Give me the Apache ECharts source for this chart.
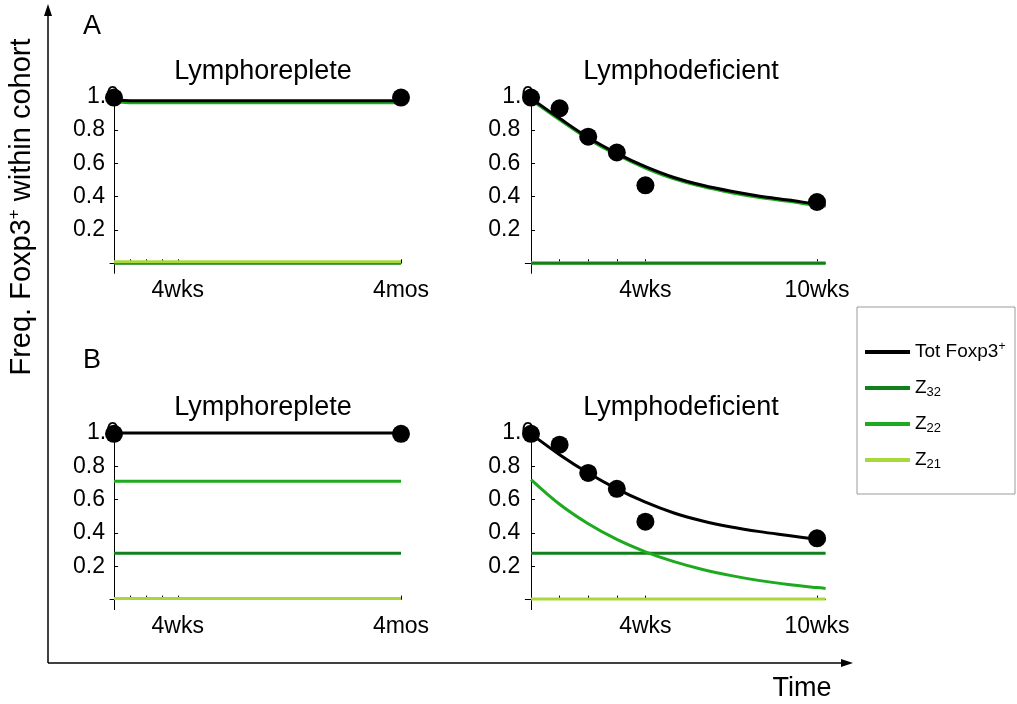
<!DOCTYPE html>
<html>
<head>
<meta charset="utf-8">
<title>Foxp3+ cohort frequency</title>
<script src="https://cdn.jsdelivr.net/npm/echarts@6/dist/echarts.min.js"></script>
<style>
  html, body { margin: 0; padding: 0; background: #ffffff; }
  #chart { width: 1017px; height: 704px; }
</style>
</head>
<body>
<div id="chart"></div>
<script>
// ---- data (time in weeks) ----
const legendNames = ['Tot Foxp3+', 'Z32', 'Z22', 'Z21'];

// observed cohort frequencies
const obsRepWeeks = [0, 18];
const obsRepValues = [0.995, 0.995];
const obsDefWeeks = [0, 1, 2, 3, 4, 10];
const obsDefValues = [0.995, 0.93, 0.76, 0.665, 0.468, 0.368];

// panel A, lymphoreplete
const repTotWeeksA = [0, 0.4, 1, 18];
const repTotA = [0.995, 0.98, 0.976, 0.976];
const repZ22A = [0.985, 0.968, 0.964, 0.964];
const repFlatWeeks = [0, 18];
const repZ32A = [0.0, 0.0];
const repZ21A = [0.01, 0.01];

// panel A, lymphodeficient
const defWeeks = [0, 1, 2, 3, 4, 5, 6, 7, 8, 9, 10, 10.3];
const defTotA = [0.99, 0.87, 0.755, 0.66, 0.58, 0.515, 0.468, 0.432, 0.403, 0.38, 0.355, 0.35];
const defZ22A = [0.982, 0.862, 0.747, 0.652, 0.572, 0.507, 0.46, 0.424, 0.395, 0.372, 0.347, 0.342];
const defFlatWeeks = [0, 10.3];
const defZ32A = [0.0, 0.0];
const defZ21A = [0.003, 0.003];

// panel B, lymphoreplete
const repTotB = [1.0, 1.0];
const repZ32B = [0.278, 0.278];
const repZ22B = [0.71, 0.71];
const repZ21B = [0.006, 0.006];

// panel B, lymphodeficient
const defTotB = [0.995, 0.87, 0.76, 0.665, 0.585, 0.52, 0.472, 0.436, 0.408, 0.385, 0.362, 0.357];
const defZ22B = [0.72, 0.572, 0.455, 0.361, 0.287, 0.228, 0.181, 0.144, 0.114, 0.091, 0.072, 0.067];
const defZ32B = [0.278, 0.278];
const defZ21B = [0.004, 0.004];

// axis ticks and labels
const repTicks = [1, 2, 3, 4, 18];
const repLabels = { 4: '4wks', 18: '4mos' };
const defTicks = [1, 2, 3, 4, 10];
const defLabels = { 4: '4wks', 10: '10wks' };
const yTicks = [0.2, 0.4, 0.6, 0.8, 1.0];

// ---- styling ----
const FONT = '"Liberation Sans", Arial, Helvetica, sans-serif';
const COLORS = { 'Tot Foxp3+': '#000000', 'Z32': '#12801a', 'Z22': '#1eaa1e', 'Z21': '#a8d83a' };

const pairs = (xs, ys) => xs.map((x, i) => [x, ys[i]]);

const grids = [
  { left: 110, top: 91.7, width: 291, height: 181.6 },
  { left: 525.3, top: 91.7, width: 300.3, height: 181.6 },
  { left: 110, top: 428, width: 291, height: 181.6 },
  { left: 525.3, top: 428, width: 300.3, height: 181.6 }
];

function xAxisFor(gridIndex, max, ticks, labels, minV) {
  return {
    type: 'value', gridIndex, min: minV, max,
    axisLine: { show: true, onZero: true, lineStyle: { color: '#000', width: 1 } },
    axisTick: { show: true, inside: true, length: 4, customValues: ticks, lineStyle: { color: '#000', width: 1 } },
    axisLabel: {
      show: true, customValues: Object.keys(labels).map(Number),
      formatter: v => labels[v] || '', color: '#000', fontSize: 23, fontFamily: FONT, margin: 6
    },
    splitLine: { show: false }
  };
}
function yAxisFor(gridIndex) {
  return {
    type: 'value', gridIndex, min: -0.06, max: 1.03,
    axisLine: { show: true, onZero: true, lineStyle: { color: '#000', width: 1 } },
    axisTick: { show: true, inside: true, length: 4, customValues: yTicks, lineStyle: { color: '#000', width: 1 } },
    axisLabel: {
      show: true, customValues: yTicks,
      // the top label sits closer to the axis, partly under the first marker
      formatter: v => (v >= 1 ? '{top|' : '{std|') + v.toFixed(1) + '}',
      rich: {
        std: { color: '#000', fontSize: 23, fontFamily: FONT, padding: [0, 14, 0, 0] },
        top: { color: '#000', fontSize: 23, fontFamily: FONT }
      },
      color: '#000', fontSize: 23, fontFamily: FONT, margin: -9
    },
    splitLine: { show: false }
  };
}

function curve(name, idx, xs, ys, smooth) {
  return {
    name, type: 'line', xAxisIndex: idx, yAxisIndex: idx,
    data: pairs(xs, ys), showSymbol: false, symbol: 'none', smooth: smooth ? 0.35 : false,
    clip: false, lineStyle: { color: COLORS[name], width: 3 }, itemStyle: { color: COLORS[name] },
    emphasis: { disabled: true }, z: name === 'Tot Foxp3+' ? 6 : 4
  };
}
function points(idx, xs, ys) {
  return {
    name: 'Observed', type: 'scatter', xAxisIndex: idx, yAxisIndex: idx,
    data: pairs(xs, ys), symbol: 'circle', symbolSize: 18, clip: false,
    itemStyle: { color: '#000', opacity: 1 }, emphasis: { disabled: true }, z: 8
  };
}

const series = [
  // A, lymphoreplete
  curve('Z32', 0, repFlatWeeks, repZ32A),
  curve('Z21', 0, repFlatWeeks, repZ21A),
  curve('Z22', 0, repTotWeeksA, repZ22A, true),
  curve('Tot Foxp3+', 0, repTotWeeksA, repTotA, true),
  points(0, obsRepWeeks, obsRepValues),
  // A, lymphodeficient
  curve('Z21', 1, defFlatWeeks, defZ21A),
  curve('Z32', 1, defFlatWeeks, defZ32A),
  curve('Z22', 1, defWeeks, defZ22A, true),
  curve('Tot Foxp3+', 1, defWeeks, defTotA, true),
  points(1, obsDefWeeks, obsDefValues),
  // B, lymphoreplete
  curve('Z21', 2, repFlatWeeks, repZ21B),
  curve('Z32', 2, repFlatWeeks, repZ32B),
  curve('Z22', 2, repFlatWeeks, repZ22B),
  curve('Tot Foxp3+', 2, repFlatWeeks, repTotB),
  points(2, obsRepWeeks, obsRepValues),
  // B, lymphodeficient
  curve('Z21', 3, defFlatWeeks, defZ21B),
  curve('Z32', 3, defFlatWeeks, defZ32B),
  curve('Z22', 3, defWeeks, defZ22B, true),
  curve('Tot Foxp3+', 3, defWeeks, defTotB, true),
  points(3, obsDefWeeks, obsDefValues)
];

const titleStyle = { color: '#000', fontSize: 27, fontWeight: 'normal', fontFamily: FONT };
const legendRich = {
  n: { fontSize: 19, fontFamily: FONT, color: '#000', lineHeight: 22 },
  sup: { fontSize: 12, fontFamily: FONT, color: '#000', padding: [0, 0, 10, 0] },
  sub: { fontSize: 13, fontFamily: FONT, color: '#000', padding: [8, 0, 0, 0] }
};

const option = {
  animation: false,
  backgroundColor: '#ffffff',
  title: [
    { text: 'A', left: 78, top: 8, textStyle: Object.assign({}, titleStyle, { fontSize: 27 }) },
    { text: 'B', left: 78, top: 342, textStyle: Object.assign({}, titleStyle, { fontSize: 27 }) },
    { text: 'Lymphoreplete', left: 258, top: 53, textAlign: 'center', textStyle: titleStyle },
    { text: 'Lymphodeficient', left: 676, top: 53, textAlign: 'center', textStyle: titleStyle },
    { text: 'Lymphoreplete', left: 258, top: 389, textAlign: 'center', textStyle: titleStyle },
    { text: 'Lymphodeficient', left: 676, top: 389, textAlign: 'center', textStyle: titleStyle }
  ],
  legend: {
    data: legendNames, orient: 'vertical', left: 865, top: 341, padding: 0,
    icon: 'rect', itemWidth: 45, itemHeight: 4, itemGap: 14, z: 5,
    selectedMode: false,
    formatter: name => name === 'Tot Foxp3+' ? '{n|Tot Foxp3}{sup|+}' : '{n|Z}{sub|' + name.slice(1) + '}',
    textStyle: { rich: legendRich, fontSize: 19, lineHeight: 22 }
  },
  grid: grids,
  xAxis: [
    xAxisFor(0, 18, repTicks, repLabels, -0.25),
    xAxisFor(1, 10.3, defTicks, defLabels, -0.2),
    xAxisFor(2, 18, repTicks, repLabels, -0.25),
    xAxisFor(3, 10.3, defTicks, defLabels, -0.2)
  ],
  yAxis: [yAxisFor(0), yAxisFor(1), yAxisFor(2), yAxisFor(3)],
  series,
  graphic: [
    // legend frame
    { type: 'rect', z: 1, shape: { x: 857, y: 307, width: 158, height: 187 },
      style: { fill: '#ffffff', stroke: '#9a9a9a', lineWidth: 1 } },
    // outer value arrow
    { type: 'line', shape: { x1: 48, y1: 663, x2: 48, y2: 12 }, style: { stroke: '#000', lineWidth: 1.5 } },
    { type: 'polygon', shape: { points: [[48, 4], [44, 16], [52, 16]] }, style: { fill: '#000' } },
    // outer time arrow
    { type: 'line', shape: { x1: 48, y1: 663, x2: 845, y2: 663 }, style: { stroke: '#000', lineWidth: 1.5 } },
    { type: 'polygon', shape: { points: [[853, 663], [841, 659], [841, 667]] }, style: { fill: '#000' } },
    { type: 'text', x: 802, y: 689,
      style: { text: 'Time', fill: '#000', font: '27px ' + FONT, textAlign: 'center', textVerticalAlign: 'middle' } },
    { type: 'text', x: 22, y: 207, rotation: Math.PI / 2,
      style: {
        text: '{a|Freq. Foxp3}{s|+}{a| within cohort}',
        textAlign: 'center', textVerticalAlign: 'middle',
        rich: {
          a: { fontSize: 29, fontFamily: FONT, fill: '#000', color: '#000' },
          s: { fontSize: 17, fontFamily: FONT, fill: '#000', color: '#000', padding: [0, 0, 15, 0] }
        }
      } }
  ]
};

const chart = echarts.init(document.getElementById('chart'), null, { renderer: 'canvas' });
chart.setOption(option);
</script>
</body>
</html>
